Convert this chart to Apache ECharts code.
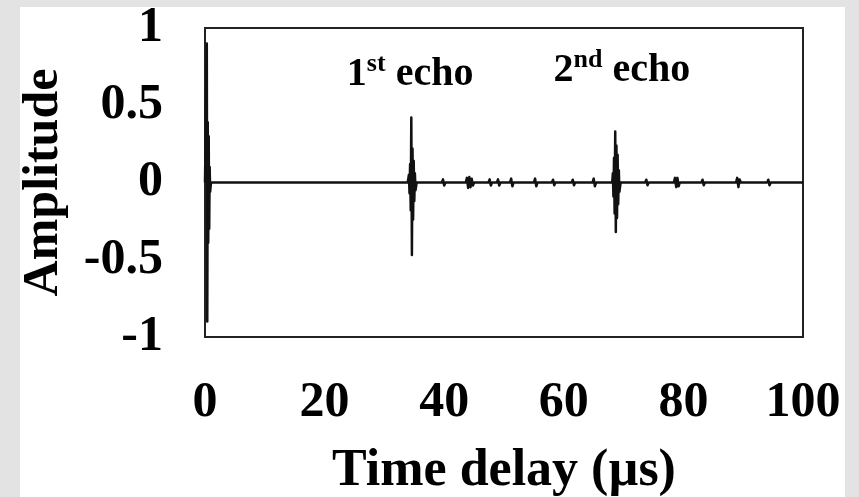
<!DOCTYPE html>
<html>
<head>
<meta charset="utf-8">
<script src="https://cdn.jsdelivr.net/npm/echarts@6/dist/echarts.min.js"></script>
<style>
  html, body { margin: 0; padding: 0; }
  body { width: 859px; height: 497px; background: #e3e3e3; position: relative; overflow: hidden; }
  .panel { position: absolute; left: 20px; top: 7px; width: 825px; height: 490px; background: #fff; }
  #chart { position: absolute; left: 0; top: 0; width: 859px; height: 497px; }
</style>
</head>
<body>
<div class="panel"></div>
<div id="chart"></div>
<script>
// waveform, [time (µs), amplitude]
const excitation = [[0, 0], [0.3, 0.9], [0.38, -0.9], [0.46, 0.39], [0.54, -0.39], [0.62, 0.3], [0.7, -0.3], [0.78, 0.1], [0.86, -0.06], [1.0, 0]]
const echo1 = [[33.9, 0], [34.1, 0.05], [34.2, -0.07], [34.3, 0.12], [34.4, -0.18], [34.5, 0.42], [34.6, -0.47], [34.7, 0.22], [34.8, -0.24], [34.9, 0.14], [35.0, -0.12], [35.1, 0.06], [35.2, -0.05], [35.4, 0]]
const ripples1 = [
  [39.6, 0], [39.8, 0.02], [40.0, -0.02], [40.2, 0],
  [43.6, 0], [43.8, 0.03], [44.0, -0.035], [44.2, 0.035], [44.4, -0.03], [44.6, 0.025], [44.8, -0.02], [45.0, 0],
  [47.4, 0], [47.6, 0.02], [47.8, -0.02], [48.0, 0],
  [48.8, 0], [49.0, 0.02], [49.2, -0.02], [49.4, 0],
  [51.0, 0], [51.2, 0.025], [51.4, -0.025], [51.6, 0],
  [55.0, 0], [55.2, 0.025], [55.4, -0.025], [55.6, 0],
  [58.0, 0], [58.2, 0.018], [58.4, -0.018], [58.6, 0],
  [61.3, 0], [61.5, 0.018], [61.7, -0.018], [61.9, 0],
  [64.8, 0], [65.0, 0.025], [65.2, -0.025], [65.4, 0]
]
const echo2 = [[68.1, 0], [68.2, 0.06], [68.3, -0.09], [68.4, 0.16], [68.5, -0.2], [68.6, 0.33], [68.7, -0.32], [68.8, 0.24], [68.9, -0.23], [69.0, 0.18], [69.1, -0.14], [69.2, 0.08], [69.3, -0.06], [69.5, 0]]
const ripples2 = [
  [73.6, 0], [73.8, 0.018], [74.0, -0.018], [74.2, 0],
  [78.4, 0], [78.6, 0.03], [78.8, -0.03], [79.0, 0.03], [79.2, -0.025], [79.4, 0],
  [83.0, 0], [83.2, 0.018], [83.4, -0.018], [83.6, 0],
  [88.8, 0], [89.0, 0.03], [89.2, -0.03], [89.4, 0.02], [89.6, 0],
  [94.0, 0], [94.2, 0.018], [94.4, -0.018], [94.6, 0],
  [100, 0]
]

// echo captions, anchored in data space
const echoLabels = [
  { ord: '1', sup: 'st', t: 34.3, amp: 0.71 },
  { ord: '2', sup: 'nd', t: 69.7, amp: 0.735 }
]

const xTicks = { min: 0, max: 100, step: 20 }
const yTicks = { min: -1, max: 1, step: 0.5 }

const signal = [].concat(excitation, echo1, ripples1, echo2, ripples2)
  .sort((a, b) => a[0] - b[0])

const serif = '"Liberation Serif", "Times New Roman", serif'

const chart = echarts.init(document.getElementById('chart'))

chart.setOption({
  animation: false,
  backgroundColor: 'transparent',
  textStyle: { fontFamily: serif, color: '#000' },
  grid: {
    left: 205,
    right: 56,
    top: 28,
    bottom: 160,
    outerBoundsMode: 'none',
    containLabel: false,
    show: true,
    borderColor: '#222',
    borderWidth: 2,
    backgroundColor: '#fff'
  },
  xAxis: {
    type: 'value',
    min: xTicks.min,
    max: xTicks.max,
    interval: xTicks.step,
    name: 'Time delay (µs)',
    nameLocation: 'middle',
    nameGap: 109,
    nameTextStyle: { fontFamily: serif, fontSize: 52, fontWeight: 'bold', color: '#000' },
    axisLine: { show: false },
    axisTick: { show: false },
    splitLine: { show: false },
    axisLabel: { fontFamily: serif, fontSize: 50, fontWeight: 'bold', color: '#000', margin: 41 }
  },
  yAxis: {
    type: 'value',
    min: yTicks.min,
    max: yTicks.max,
    interval: yTicks.step,
    name: 'Amplitude',
    nameLocation: 'middle',
    nameGap: 136,
    nameTextStyle: { fontFamily: serif, fontSize: 50, fontWeight: 'bold', color: '#000' },
    axisLine: { show: false },
    axisTick: { show: false },
    splitLine: { show: false },
    axisLabel: { fontFamily: serif, fontSize: 50, fontWeight: 'bold', color: '#000', margin: 42 }
  },
  series: [
    {
      type: 'line',
      data: signal,
      showSymbol: false,
      lineStyle: { color: '#111', width: 2.5, join: 'round' },
      silent: true
    },
    {
      type: 'scatter',
      symbolSize: 0,
      silent: true,
      itemStyle: { opacity: 1 },
      data: echoLabels.map(d => ({ value: [d.t, d.amp], ord: d.ord, sup: d.sup })),
      label: {
        show: true,
        position: 'inside',
        opacity: 1,
        formatter: p => `{n|${p.data.ord}}{s|${p.data.sup}}{n| echo}`,
        rich: {
          n: { fontFamily: serif, fontSize: 40, fontWeight: 'bold', color: '#000', lineHeight: 44, verticalAlign: 'bottom' },
          s: { fontFamily: serif, fontSize: 26, fontWeight: 'bold', color: '#000', lineHeight: 26, verticalAlign: 'top' }
        }
      }
    }
  ]
})
</script>
</body>
</html>
